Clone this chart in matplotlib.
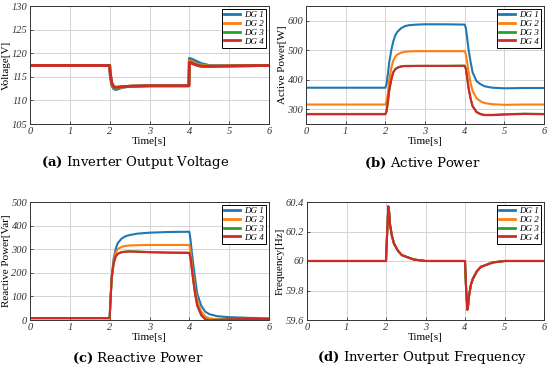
import matplotlib
matplotlib.use("Agg")
import matplotlib.pyplot as plt

series_names = ["DG 1", "DG 2", "DG 3", "DG 4"]
colors = ["#1f77b4", "#ff7f0e", "#2ca02c", "#d62728"]

# (a) inverter output voltage
t_v = [0, 2.0, 2.01, 2.05, 2.1, 2.15, 2.2, 2.3, 2.5, 3.0, 3.99, 4.0, 4.05, 4.1, 4.2, 4.3, 4.5, 5.0, 6.0]
v_dg1 = [117.4, 117.4, 115.5, 113.2, 112.5, 112.3, 112.4, 112.7, 113.0, 113.1, 113.1, 118.9, 118.8, 118.6, 118.2, 117.8, 117.4, 117.3, 117.4]
v_dg2 = [117.4, 117.4, 116.0, 113.5, 112.8, 112.6, 112.7, 112.8, 113.0, 113.1, 113.1, 118.4, 118.3, 118.1, 117.7, 117.5, 117.3, 117.3, 117.4]
v_dg3 = [117.4, 117.4, 116.1, 113.7, 112.9, 112.7, 112.8, 112.9, 113.0, 113.1, 113.1, 118.1, 118.0, 117.8, 117.5, 117.3, 117.2, 117.3, 117.4]
v_dg4 = [117.4, 117.4, 116.2, 113.8, 113.0, 112.8, 112.8, 112.9, 113.0, 113.1, 113.1, 118.0, 117.9, 117.7, 117.4, 117.2, 117.2, 117.3, 117.4]

# (b) active power
t_p = [0, 2.0, 2.03, 2.06, 2.1, 2.15, 2.2, 2.25, 2.3, 2.4, 2.5, 2.6, 2.8, 3.0, 3.5, 4.0,
       4.03, 4.06, 4.1, 4.15, 4.2, 4.3, 4.4, 4.5, 4.7, 5.0, 5.5, 6.0]
p_dg1 = [373, 373, 385, 415, 460, 500, 530, 550, 562, 575, 582, 585, 587, 588, 588, 587,
         575, 545, 500, 460, 425, 395, 385, 378, 373, 371, 372, 372]
p_dg2 = [316, 316, 325, 350, 400, 440, 465, 478, 485, 492, 495, 496, 497, 497, 497, 497,
         487, 462, 425, 390, 362, 337, 327, 321, 317, 315, 316, 316]
p_dg3 = [284, 284, 293, 321, 366, 401, 426, 436, 441, 446, 447, 447, 447, 447, 447, 448,
         438, 411, 371, 336, 311, 291, 284, 281, 281, 283, 285, 284]
p_dg4 = [283, 283, 292, 320, 365, 400, 425, 435, 440, 445, 446, 446, 447, 447, 447, 447,
         437, 410, 370, 335, 310, 290, 283, 280, 280, 282, 284, 283]

# (c) reactive power
t_q = [0, 2.0, 2.02, 2.05, 2.1, 2.15, 2.2, 2.3, 2.4, 2.5, 2.7, 3.0, 3.5, 4.0,
       4.03, 4.06, 4.1, 4.15, 4.2, 4.3, 4.4, 4.5, 4.7, 5.0, 5.5, 6.0]
q_dg1 = [8, 8, 80, 180, 260, 300, 325, 345, 355, 360, 366, 370, 373, 374,
         340, 290, 235, 170, 110, 60, 35, 25, 16, 12, 9, 7]
q_dg2 = [8, 8, 80, 180, 250, 285, 300, 310, 314, 316, 317, 318, 318, 318,
         290, 245, 190, 125, 80, 35, 15, 7, 3, 3, 4, 4]
q_dg3 = [8, 8, 80, 176, 241, 269, 281, 288, 290, 291, 290, 288, 286, 285,
         263, 221, 166, 106, 61, 21, 4, -1, 1, 3, 4, 4]
q_dg4 = [8, 8, 80, 175, 240, 268, 280, 287, 289, 290, 289, 287, 285, 284,
         262, 220, 165, 105, 60, 20, 3, -2, 0, 3, 4, 4]

# (d) inverter output frequency
t_f = [0, 2.0, 2.03, 2.06, 2.08, 2.1, 2.15, 2.2, 2.3, 2.4, 2.5, 2.7, 3.0, 4.0,
       4.03, 4.06, 4.08, 4.1, 4.15, 4.2, 4.3, 4.4, 4.5, 4.7, 5.0, 6.0]
f_dg1 = [60, 60, 60.2, 60.37, 60.33, 60.25, 60.17, 60.12, 60.07, 60.04, 60.03, 60.01, 60.0, 60.0,
         59.8, 59.67, 59.7, 59.76, 59.84, 59.88, 59.93, 59.96, 59.97, 59.99, 60.0, 60.0]
f_dg2 = list(f_dg1)
f_dg3 = list(f_dg1)
f_dg4 = list(f_dg1)

panels = [
    (t_v, [v_dg1, v_dg2, v_dg3, v_dg4], "Voltage[V]", (105, 130), [105, 110, 115, 120, 125, 130],
     r"$\bf{(a)}$ Inverter Output Voltage", 2.0),
    (t_p, [p_dg1, p_dg2, p_dg3, p_dg4], "Active Power[W]", (250, 650), [300, 400, 500, 600],
     r"$\bf{(b)}$ Active Power", 1.5),
    (t_q, [q_dg1, q_dg2, q_dg3, q_dg4], "Reactive Power[Var]", (0, 500), [0, 100, 200, 300, 400, 500],
     r"$\bf{(c)}$ Reactive Power", 1.5),
    (t_f, [f_dg1, f_dg2, f_dg3, f_dg4], "Frequency[Hz]", (59.6, 60.4), [59.6, 59.8, 60.0, 60.2, 60.4],
     r"$\bf{(d)}$ Inverter Output Frequency", 1.5),
]

W, H = 550, 370
plt.rcParams["mathtext.fontset"] = "dejavuserif"
fig = plt.figure(figsize=(W / 100, H / 100), dpi=100)
boxes = [(30, 6, 269, 124), (306, 6, 544, 124), (30, 202, 269, 320), (307, 202, 544, 320)]
cap_pos = [(135, 163), (422, 163), (138, 358), (422, 358)]

for k, (t, ys, ylab, ylim, yticks, cap, lw) in enumerate(panels):
    x0, y0, x1, y1 = boxes[k]
    ax = fig.add_axes([x0 / W, 1 - y1 / H, (x1 - x0) / W, (y1 - y0) / H])
    for name, c, y in zip(series_names, colors, ys):
        ax.plot(t, y, color=c, lw=lw, label=name)
    ax.set_xlim(0, 6)
    ax.set_ylim(*ylim)
    ax.set_xticks(range(7))
    ax.set_yticks(yticks)
    ax.set_yticklabels([f"{v:g}" for v in yticks])
    for lab in ax.get_xticklabels() + ax.get_yticklabels():
        lab.set_fontfamily("Liberation Serif")
        lab.set_fontstyle("italic")
        lab.set_fontsize(7.5)
        lab.set_color("#333333")
    ax.tick_params(length=2, width=0.6, direction="in", pad=2, colors="#333333")
    ax.grid(True, color="#d4d4d4", lw=0.7)
    for s in ax.spines.values():
        s.set_color("#333333")
        s.set_linewidth(0.7)
    ax.set_xlabel("Time[s]", family="Liberation Serif", fontsize=8, labelpad=1)
    ax.set_ylabel(ylab, family="Liberation Serif", fontsize=8, labelpad=0.5)
    leg = ax.legend(loc="upper right", prop={"family": "Liberation Serif", "style": "italic", "size": 6.5},
                    handlelength=1.7, handletextpad=0.5, labelspacing=0.05, borderpad=0.25,
                    borderaxespad=0.3, fancybox=False, framealpha=1)
    leg.get_frame().set_edgecolor("black")
    leg.get_frame().set_linewidth(0.7)
    for line in leg.get_lines():
        line.set_linewidth(2.0)
    fig.text(cap_pos[k][0] / W, 1 - cap_pos[k][1] / H, cap, ha="center", va="center",
             family="DejaVu Serif", fontsize=9.5)

fig.savefig("out.png", dpi=100)
